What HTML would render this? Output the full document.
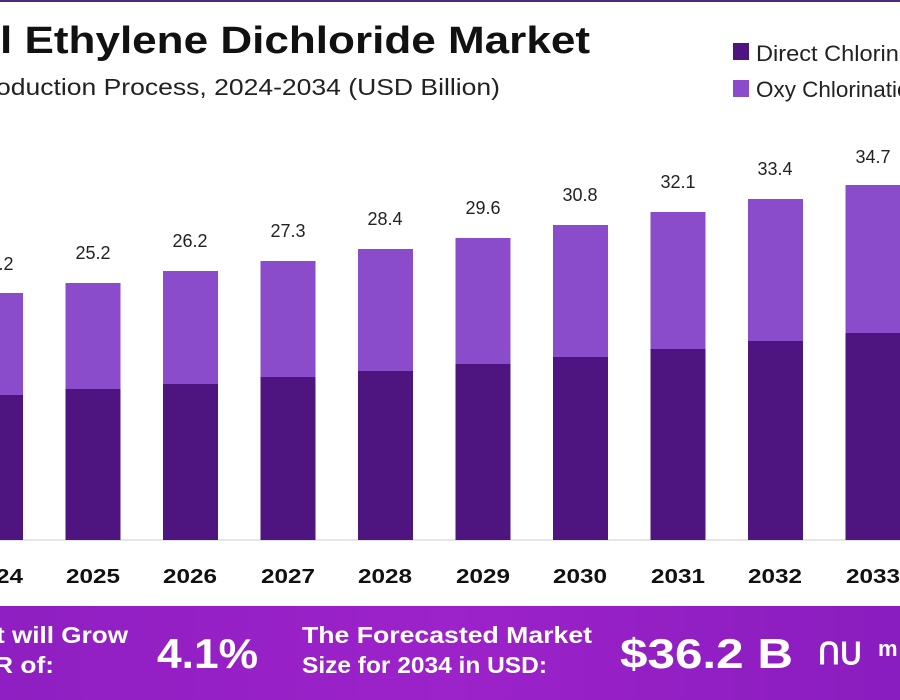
<!DOCTYPE html>
<html><head><meta charset="utf-8"><style>
body{margin:0;width:900px;height:700px;overflow:hidden;background:#fff;font-family:"Liberation Sans",sans-serif}
</style></head><body>
<svg width="900" height="700" xmlns="http://www.w3.org/2000/svg" style="position:absolute;left:0;top:0">
<defs><linearGradient id="g" x1="0" x2="1" y1="0" y2="0"><stop offset="0" stop-color="#8f1fc2"/><stop offset="0.5" stop-color="#9c22c9"/><stop offset="1" stop-color="#8a1dbf"/></linearGradient></defs>
<rect x="0" y="0" width="900" height="2" fill="#4a2a7a"/>
<text x="0" y="53" font-size="38" font-weight="bold" fill="#111" textLength="590" lengthAdjust="spacingAndGlyphs">l Ethylene Dichloride Market</text>
<text x="-4" y="95" font-size="23" fill="#222" textLength="504" lengthAdjust="spacingAndGlyphs">oduction Process, 2024-2034 (USD Billion)</text>
<rect x="733" y="43" width="16" height="17" fill="#4e1580"/>
<text x="756" y="61" font-size="22" fill="#222" textLength="194" lengthAdjust="spacingAndGlyphs">Direct Chlorination</text>
<rect x="733" y="80" width="16" height="17" fill="#8a4ccb"/>
<text x="756" y="97" font-size="22" fill="#222" textLength="166" lengthAdjust="spacingAndGlyphs">Oxy Chlorination</text>
<line x1="0" y1="540" x2="900" y2="540" stroke="#ddd" stroke-width="1.5"/>
<g font-size="18" fill="#222" text-anchor="middle">
<rect x="-32" y="293" width="55" height="102" fill="#8a4ccb"/><rect x="-32" y="395" width="55" height="145" fill="#4e1580"/><text x="-4" y="270">24.2</text>
<rect x="65.5" y="283" width="55" height="106" fill="#8a4ccb"/><rect x="65.5" y="389" width="55" height="151" fill="#4e1580"/><text x="93" y="259">25.2</text>
<rect x="163" y="271" width="55" height="113" fill="#8a4ccb"/><rect x="163" y="384" width="55" height="156" fill="#4e1580"/><text x="190" y="247">26.2</text>
<rect x="260.5" y="261" width="55" height="116" fill="#8a4ccb"/><rect x="260.5" y="377" width="55" height="163" fill="#4e1580"/><text x="288" y="237">27.3</text>
<rect x="358" y="249" width="55" height="122" fill="#8a4ccb"/><rect x="358" y="371" width="55" height="169" fill="#4e1580"/><text x="385" y="225">28.4</text>
<rect x="455.5" y="238" width="55" height="126" fill="#8a4ccb"/><rect x="455.5" y="364" width="55" height="176" fill="#4e1580"/><text x="483" y="214">29.6</text>
<rect x="553" y="225" width="55" height="132" fill="#8a4ccb"/><rect x="553" y="357" width="55" height="183" fill="#4e1580"/><text x="580" y="201">30.8</text>
<rect x="650.5" y="212" width="55" height="137" fill="#8a4ccb"/><rect x="650.5" y="349" width="55" height="191" fill="#4e1580"/><text x="678" y="188">32.1</text>
<rect x="748" y="199" width="55" height="142" fill="#8a4ccb"/><rect x="748" y="341" width="55" height="199" fill="#4e1580"/><text x="775" y="175">33.4</text>
<rect x="845.5" y="185" width="60" height="148" fill="#8a4ccb"/><rect x="845.5" y="333" width="60" height="207" fill="#4e1580"/><text x="873" y="163">34.7</text>
</g>
<g font-size="20" font-weight="bold" fill="#111">
<text x="-31" y="583" textLength="54" lengthAdjust="spacingAndGlyphs">2024</text><text x="66" y="583" textLength="54" lengthAdjust="spacingAndGlyphs">2025</text><text x="163" y="583" textLength="54" lengthAdjust="spacingAndGlyphs">2026</text><text x="261" y="583" textLength="54" lengthAdjust="spacingAndGlyphs">2027</text><text x="358" y="583" textLength="54" lengthAdjust="spacingAndGlyphs">2028</text><text x="456" y="583" textLength="54" lengthAdjust="spacingAndGlyphs">2029</text><text x="553" y="583" textLength="54" lengthAdjust="spacingAndGlyphs">2030</text><text x="651" y="583" textLength="54" lengthAdjust="spacingAndGlyphs">2031</text><text x="748" y="583" textLength="54" lengthAdjust="spacingAndGlyphs">2032</text><text x="846" y="583" textLength="54" lengthAdjust="spacingAndGlyphs">2033</text>
</g>
<rect x="0" y="606" width="900" height="94" fill="url(#g)"/>
<g fill="#fff" font-weight="bold">
<text x="-4" y="643" font-size="23" textLength="132" lengthAdjust="spacingAndGlyphs">t will Grow</text>
<text x="-6" y="673" font-size="23" textLength="60" lengthAdjust="spacingAndGlyphs">R of:</text>
<text x="157" y="668" font-size="42" textLength="101" lengthAdjust="spacingAndGlyphs">4.1%</text>
<text x="302" y="643" font-size="23" textLength="290" lengthAdjust="spacingAndGlyphs">The Forecasted Market</text>
<text x="302" y="673" font-size="23" textLength="245" lengthAdjust="spacingAndGlyphs">Size for 2034 in USD:</text>
<text x="620" y="668" font-size="42" textLength="173" lengthAdjust="spacingAndGlyphs">$36.2 B</text>
<text x="818" y="664" font-size="30">ՈՍ</text>
<text x="878" y="656" font-size="22">m</text>
</g>
</svg>
</body></html>
